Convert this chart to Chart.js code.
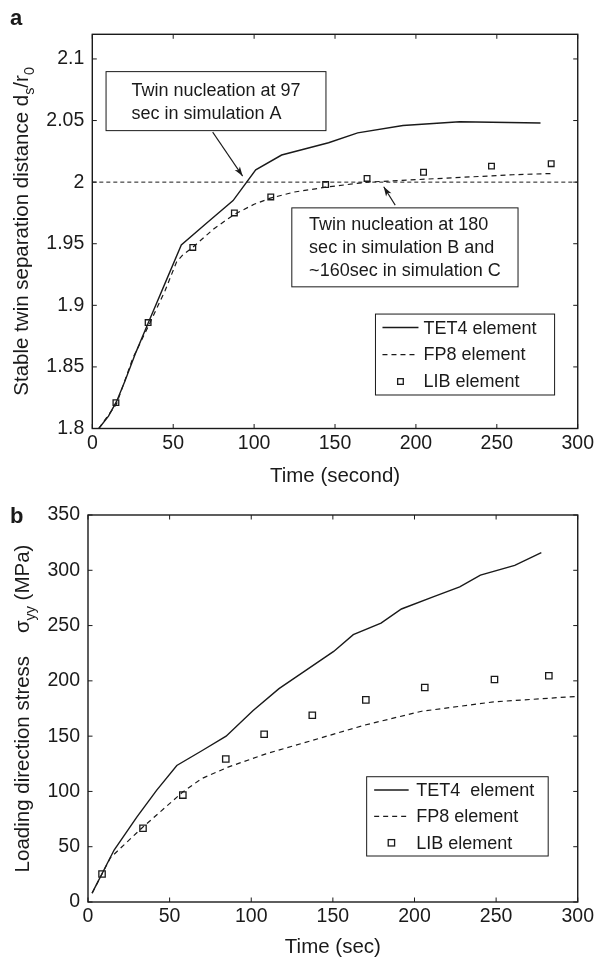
<!DOCTYPE html>
<html>
<head>
<meta charset="utf-8">
<title>Twin separation and loading stress</title>
<script src="https://cdn.jsdelivr.net/npm/chart.js@4.4.1/dist/chart.umd.min.js"></script>
<style>
  html, body { margin: 0; padding: 0; background: #fff; }
  #wrap { position: relative; width: 597px; height: 960px; }
  canvas { position: absolute; left: 0; }
  #chartA { top: 0; }
  #chartB { top: 490px; }
</style>
</head>
<body>
<div id="wrap">
  <canvas id="chartA" width="597" height="490" style="width:597px;height:490px"></canvas>
  <canvas id="chartB" width="597" height="470" style="width:597px;height:470px"></canvas>
</div>
<script>
/* ── Panel a: stable twin separation distance ds/r0 ───── */
const tet4TimeA = [4, 10, 15, 20, 27, 35, 45, 55, 70, 87, 101, 117, 146, 164, 192, 227, 277];
const tet4DistA = [1.800, 1.810, 1.822, 1.838, 1.862, 1.887, 1.918, 1.949, 1.966, 1.985, 2.010, 2.022, 2.032, 2.040, 2.046, 2.049, 2.048];

const fp8TimeA = [4, 15, 25, 35, 45, 52, 56, 62, 75, 88, 100, 110, 125, 145, 170, 200, 230, 260, 284];
const fp8DistA = [1.800, 1.820, 1.857, 1.884, 1.912, 1.935, 1.941, 1.947, 1.962, 1.974, 1.982, 1.987, 1.992, 1.996, 2.000, 2.002, 2.004, 2.006, 2.007];

const libTimeA = [14.6, 34.5, 62.1, 87.8, 110.3, 144.2, 169.8, 204.7, 246.7, 283.6];
const libDistA = [1.821, 1.886, 1.947, 1.975, 1.988, 1.998, 2.003, 2.008, 2.013, 2.015];

const refTimeA = [0, 300];
const refDistA = [2, 2];

const xTicksA = [0, 50, 100, 150, 200, 250, 300];
const yTicksA = [1.8, 1.85, 1.9, 1.95, 2, 2.05, 2.1];

/* ── Panel b: loading direction stress σyy (MPa) ─────── */
const tet4TimeB = [2.5, 16, 30, 42, 54.4, 70, 84.6, 101, 117, 135, 150.5, 162.5, 179.5, 192, 211.4, 227.7, 240.4, 261.4, 277.7];
const tet4StressB = [8, 47, 77, 101, 123.5, 137, 150, 173, 193, 211, 226.6, 241.8, 252.3, 265, 276, 285, 295.6, 304.5, 316];

const fp8TimeB = [2.5, 13.7, 33.5, 58, 69.5, 85.8, 109, 137, 169.5, 204.4, 248.5, 300];
const fp8StressB = [8, 40, 67.6, 99.4, 111.5, 122, 134, 146, 160, 172.5, 181, 186];

const libTimeB = [8.6, 33.7, 58.1, 84.4, 107.9, 137.4, 170.2, 206.3, 249, 282.3];
const libStressB = [25.3, 66.7, 96.7, 129.3, 151.7, 168.9, 182.8, 194, 201.2, 204.6];

const xTicksB = [0, 50, 100, 150, 200, 250, 300];
const yTicksB = [0, 50, 100, 150, 200, 250, 300, 350];

/* ── Shared style ──────────────────────────────────────── */
const INK  = "#1a1a1a";
const FONT = "'Liberation Sans', Arial, Helvetica, sans-serif";
const TICK = 4.5;

function pts(xs, ys) {
  return xs.map((x, i) => ({ x, y: ys[i] }));
}

function lineSet(xs, ys, dash, width) {
  return {
    data: pts(xs, ys), showLine: true, borderColor: INK, borderWidth: width,
    borderDash: dash, pointRadius: 0, fill: false, tension: 0,
  };
}

function markerSet(xs, ys, r) {
  return {
    data: pts(xs, ys), showLine: false, pointStyle: "rect", pointRadius: r,
    borderColor: INK, pointBorderColor: INK, pointBorderWidth: 1.3,
    pointBackgroundColor: "rgba(0,0,0,0)",
  };
}

function axes(xTicks, yTicks, yMin, yMax, yWidth, xHeight) {
  const tickFont = { family: FONT, size: 19.5 };
  return {
    x: {
      type: "linear", min: 0, max: 300,
      afterBuildTicks: s => { s.ticks = xTicks.map(v => ({ value: v })); },
      afterFit: s => { s.height = xHeight; },
      grid: { display: false, drawTicks: false }, border: { display: false },
      ticks: { font: tickFont, color: INK, padding: 3, maxRotation: 0, autoSkip: false },
    },
    y: {
      type: "linear", min: yMin, max: yMax,
      afterBuildTicks: s => { s.ticks = yTicks.map(v => ({ value: v })); },
      afterFit: s => { s.width = yWidth; },
      grid: { display: false, drawTicks: false }, border: { display: false },
      ticks: {
        font: tickFont, color: INK, padding: 8, autoSkip: false,
        callback: v => String(Number(v.toFixed(2))),
      },
    },
  };
}

/* ── Text with subscripts, rotated for the y title ─────── */
function drawRich(ctx, parts, cx, cy, size) {
  const sub = size * 0.7;
  const widths = parts.map(p => {
    ctx.font = `${p.sub ? sub : size}px ${FONT}`;
    return ctx.measureText(p.t).width;
  });
  const total = widths.reduce((a, b) => a + b, 0);
  ctx.save();
  ctx.translate(cx, cy);
  ctx.rotate(-Math.PI / 2);
  ctx.textAlign = "left";
  ctx.textBaseline = "alphabetic";
  let x = -total / 2;
  parts.forEach((p, i) => {
    ctx.font = `${p.sub ? sub : size}px ${FONT}`;
    ctx.fillText(p.t, x, p.sub ? size * 0.28 : 0);
    x += widths[i];
  });
  ctx.restore();
}

function arrow(ctx, x0, y0, x1, y1) {
  const ang = Math.atan2(y1 - y0, x1 - x0);
  ctx.beginPath();
  ctx.moveTo(x0, y0);
  ctx.lineTo(x1, y1);
  ctx.stroke();
  const L = 10, W = 0.32;
  ctx.beginPath();
  ctx.moveTo(x1, y1);
  ctx.lineTo(x1 - L * Math.cos(ang - W), y1 - L * Math.sin(ang - W));
  ctx.lineTo(x1 - 7 * Math.cos(ang), y1 - 7 * Math.sin(ang));
  ctx.lineTo(x1 - L * Math.cos(ang + W), y1 - L * Math.sin(ang + W));
  ctx.closePath();
  ctx.fill();
}

/* ── MATLAB-style box, ticks, notes, legend, titles ────── */
const matlabAxes = {
  id: "matlabAxes",
  afterDraw(chart, args, o) {
    const { ctx, chartArea: a } = chart;
    const x = chart.scales.x, y = chart.scales.y;
    ctx.save();
    ctx.strokeStyle = INK;
    ctx.fillStyle = INK;

    // inward ticks on all four sides
    ctx.lineWidth = 1;
    ctx.beginPath();
    x.ticks.forEach(t => {
      const px = x.getPixelForValue(t.value);
      ctx.moveTo(px, a.bottom); ctx.lineTo(px, a.bottom - TICK);
      ctx.moveTo(px, a.top);    ctx.lineTo(px, a.top + TICK);
    });
    y.ticks.forEach(t => {
      const py = y.getPixelForValue(t.value);
      ctx.moveTo(a.left, py);  ctx.lineTo(a.left + TICK, py);
      ctx.moveTo(a.right, py); ctx.lineTo(a.right - TICK, py);
    });
    ctx.stroke();

    // frame
    ctx.lineWidth = 1.4;
    ctx.strokeRect(a.left, a.top, a.width, a.height);

    // annotation boxes + arrows
    (o.notes || []).forEach(n => {
      const L = x.getPixelForValue(n.box[0]), T = y.getPixelForValue(n.box[1]);
      const R = x.getPixelForValue(n.box[2]), B = y.getPixelForValue(n.box[3]);
      ctx.fillStyle = "#fff";
      ctx.fillRect(L, T, R - L, B - T);
      ctx.lineWidth = 1;
      ctx.strokeRect(L, T, R - L, B - T);
      ctx.fillStyle = INK;
      ctx.font = `18px ${FONT}`;
      ctx.textAlign = "left";
      ctx.textBaseline = "middle";
      const maxW = Math.max(...n.lines.map(s => ctx.measureText(s).width));
      const tx = (L + R) / 2 - maxW / 2;
      const lh = 23;
      const y0 = (T + B) / 2 - (n.lines.length - 1) * lh / 2 + 1;
      n.lines.forEach((s, i) => ctx.fillText(s, tx, y0 + i * lh));
      ctx.lineWidth = 1.1;
      arrow(ctx,
        x.getPixelForValue(n.from[0]), y.getPixelForValue(n.from[1]),
        x.getPixelForValue(n.to[0]),   y.getPixelForValue(n.to[1]));
    });

    // legend
    const lg = o.legend;
    if (lg) {
      const L = x.getPixelForValue(lg.box[0]), T = y.getPixelForValue(lg.box[1]);
      const R = x.getPixelForValue(lg.box[2]), B = y.getPixelForValue(lg.box[3]);
      ctx.fillStyle = "#fff";
      ctx.fillRect(L, T, R - L, B - T);
      ctx.lineWidth = 1;
      ctx.strokeRect(L, T, R - L, B - T);
      ctx.fillStyle = INK;
      ctx.font = `18px ${FONT}`;
      ctx.textAlign = "left";
      ctx.textBaseline = "middle";
      const rowH = (B - T) / lg.rows.length;
      lg.rows.forEach((r, i) => {
        const cy = T + rowH * (i + 0.5);
        ctx.lineWidth = r.kind === "solid" ? 1.4 : 1.2;
        if (r.kind === "solid" || r.kind === "dash") {
          ctx.setLineDash(r.kind === "dash" ? [5, 4] : []);
          ctx.beginPath();
          ctx.moveTo(L + lg.sample[0], cy);
          ctx.lineTo(L + lg.sample[1], cy);
          ctx.stroke();
          ctx.setLineDash([]);
        } else {
          const h = lg.marker * Math.SQRT1_2;
          ctx.lineWidth = 1.3;
          ctx.strokeRect(L + (lg.sample[0] + lg.sample[1]) / 2 - h, cy - h, 2 * h, 2 * h);
        }
        ctx.fillText(r.label, L + lg.textAt, cy + 1);
      });
    }

    // axis titles
    ctx.fillStyle = INK;
    ctx.font = `20.5px ${FONT}`;
    ctx.textAlign = "center";
    ctx.textBaseline = "alphabetic";
    ctx.fillText(o.xTitle, (a.left + a.right) / 2, o.xTitleBase);
    drawRich(ctx, o.yTitle, o.yTitleBase, (a.top + a.bottom) / 2, 20.5);

    // panel letter
    ctx.font = `bold 22px ${FONT}`;
    ctx.textAlign = "left";
    ctx.fillText(o.panel[0], o.panel[1], o.panel[2]);

    ctx.restore();
  },
};

/* ── Annotation + legend layout (data units) ───────────── */
const notesA = [
  { lines: ["Twin nucleation at 97", "sec in simulation A"],
    box: [8.5, 2.0897, 144.4, 2.0418], from: [74.4, 2.0406], to: [92.9, 2.0049] },
  { lines: ["Twin nucleation at 180", "sec in simulation B and", "~160sec in simulation C"],
    box: [123.3, 1.9791, 263.1, 1.915], from: [187.2, 1.9813], to: [180.1, 1.9962] },
];

const legendA = {
  box: [175, 1.8929, 285.7, 1.8272], sample: [7, 43], textAt: 48, marker: 4,
  rows: [
    { label: "TET4 element", kind: "solid" },
    { label: "FP8 element", kind: "dash" },
    { label: "LIB element", kind: "square" },
  ],
};

const legendB = {
  box: [170.7, 113.3, 281.9, 41.6], sample: [7.5, 42], textAt: 49.5, marker: 4.5,
  rows: [
    { label: "TET4  element", kind: "solid" },
    { label: "FP8 element", kind: "dash" },
    { label: "LIB element", kind: "square" },
  ],
};

const common = {
  responsive: false,
  animation: false,
  events: [],
  plugins: { legend: { display: false }, tooltip: { enabled: false } },
};

/* ── Chart a ───────────────────────────────────────────── */
new Chart(document.getElementById("chartA"), {
  type: "scatter",
  data: {
    datasets: [
      lineSet(refTimeA, refDistA, [4, 3], 1),
      lineSet(tet4TimeA, tet4DistA, [], 1.4),
      lineSet(fp8TimeA, fp8DistA, [5, 4], 1.2),
      markerSet(libTimeA, libDistA, 4),
    ],
  },
  options: {
    ...common,
    layout: { padding: { top: 34.3, right: 17, bottom: 0, left: 0 } },
    scales: axes(xTicksA, yTicksA, 1.8, 2.12, 92.3, 61.5),
    plugins: {
      ...common.plugins,
      matlabAxes: {
        notes: notesA, legend: legendA,
        xTitle: "Time (second)", xTitleBase: 482,
        yTitle: [{ t: "Stable twin separation distance d" }, { t: "s", sub: true }, { t: "/r" }, { t: "0", sub: true }],
        yTitleBase: 28,
        panel: ["a", 10, 25],
      },
    },
  },
  plugins: [matlabAxes],
});

/* ── Chart b ───────────────────────────────────────────── */
new Chart(document.getElementById("chartB"), {
  type: "scatter",
  data: {
    datasets: [
      lineSet(tet4TimeB, tet4StressB, [], 1.4),
      lineSet(fp8TimeB, fp8StressB, [5, 4], 1.2),
      markerSet(libTimeB, libStressB, 4.5),
    ],
  },
  options: {
    ...common,
    layout: { padding: { top: 25, right: 17.5, bottom: 0, left: 0 } },
    scales: axes(xTicksB, yTicksB, 0, 350, 88, 58),
    plugins: {
      ...common.plugins,
      matlabAxes: {
        legend: legendB,
        xTitle: "Time (sec)", xTitleBase: 463,
        yTitle: [{ t: "Loading direction stress    σ" }, { t: "yy", sub: true }, { t: " (MPa)" }],
        yTitleBase: 29,
        panel: ["b", 10, 33],
      },
    },
  },
  plugins: [matlabAxes],
});
</script>
</body>
</html>
